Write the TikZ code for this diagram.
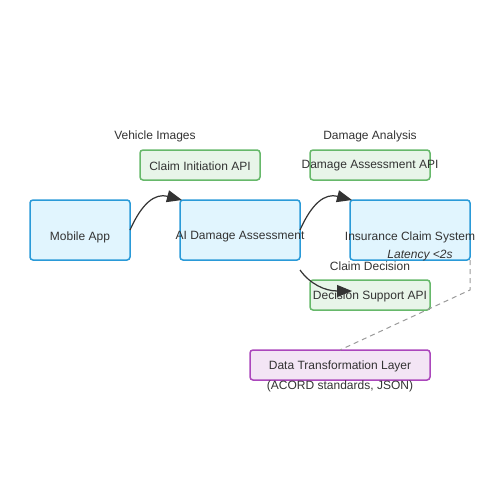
\documentclass[tikz,border=0pt]{standalone}
\usepackage{fontspec}
\setmainfont{Liberation Sans}
\usetikzlibrary{arrows.meta}

\definecolor{appBlue}{HTML}{E1F5FE}
\definecolor{appBlueLine}{HTML}{2A9AD8}
\definecolor{apiGreen}{HTML}{E8F5E9}
\definecolor{apiGreenLine}{HTML}{66B86A}
\definecolor{layerPurple}{HTML}{F3E5F5}
\definecolor{layerPurpleLine}{HTML}{AB47BC}
\definecolor{txt}{HTML}{333333}

\begin{document}
\begin{tikzpicture}[x=1pt,y=-1pt,
	every node/.style={font=\fontsize{12}{14}\selectfont, text=txt},
	sysbox/.style={draw=appBlueLine, fill=appBlue, line width=1.5pt, rounded corners=3pt},
	apibox/.style={draw=apiGreenLine, fill=apiGreen, line width=1.5pt, rounded corners=3pt},
	layerbox/.style={draw=layerPurpleLine, fill=layerPurple, line width=1.5pt, rounded corners=3pt},
	flow/.style={-{Triangle[length=15pt,width=12pt]}, line width=1.2pt, draw=txt, fill=none}]
	\useasboundingbox (0,0) rectangle (500,500);

	\draw[sysbox] (30,200) rectangle (130,260);
	\node[] (app) at (80,237) {Mobile App};
	\coordinate (appE) at (130,230);

	\draw[sysbox] (180,200) rectangle (300,260);
	\node[] (ai) at (240,237) {AI Damage Assessment};
	\coordinate (aiNW) at (182,200);
	\coordinate (aiE) at (300,230);
	\coordinate (aiSE) at (300,270);

	\draw[sysbox] (350,200) rectangle (470,260);
	\node[] (ins) at (410,237) {Insurance Claim System};
	\coordinate (insNW) at (352,200);
	\coordinate (insSE) at (470,260);

	\draw[apibox] (140,150) rectangle (260,180);
	\node[] (claimApi) at (200,166) {Claim Initiation API};
	\node[] (lblImages) at (155,136) {Vehicle Images};

	\draw[apibox] (310,150) rectangle (430,180);
	\node[] (dmgApi) at (370,166) {Damage Assessment API};
	\node[] (lblAnalysis) at (370,136) {Damage Analysis};

	\draw[apibox] (310,280) rectangle (430,310);
	\node[] (decApi) at (370,296) {Decision Support API};
	\node[] (lblDecision) at (370,266) {Claim Decision};
	\coordinate (decIn) at (352,291);

	\draw[layerbox] (250,350) rectangle (430,380);
	\node[] (dtl) at (340,366) {Data Transformation Layer};
	\node[] (lblAcord) at (340,386) {(ACORD standards, JSON)};
	\coordinate (dtlN) at (340,350);

	\draw[flow] (appE) .. controls (142,203) and (155,193) .. (aiNW);
	\draw[flow] (aiE) .. controls (312,203) and (325,193) .. (insNW);
	\draw[flow] (aiSE) .. controls (310,284) and (325,291) .. (decIn);

	\node[font=\itshape\fontsize{12}{14}\selectfont] (lblLatency) at (420,256) {Latency <2s};
	\draw[dashed, draw=gray!80, line width=1pt, dash pattern=on 5pt off 4pt] (insSE) -- (470,290) -- (dtlN);
\end{tikzpicture}
\end{document}
